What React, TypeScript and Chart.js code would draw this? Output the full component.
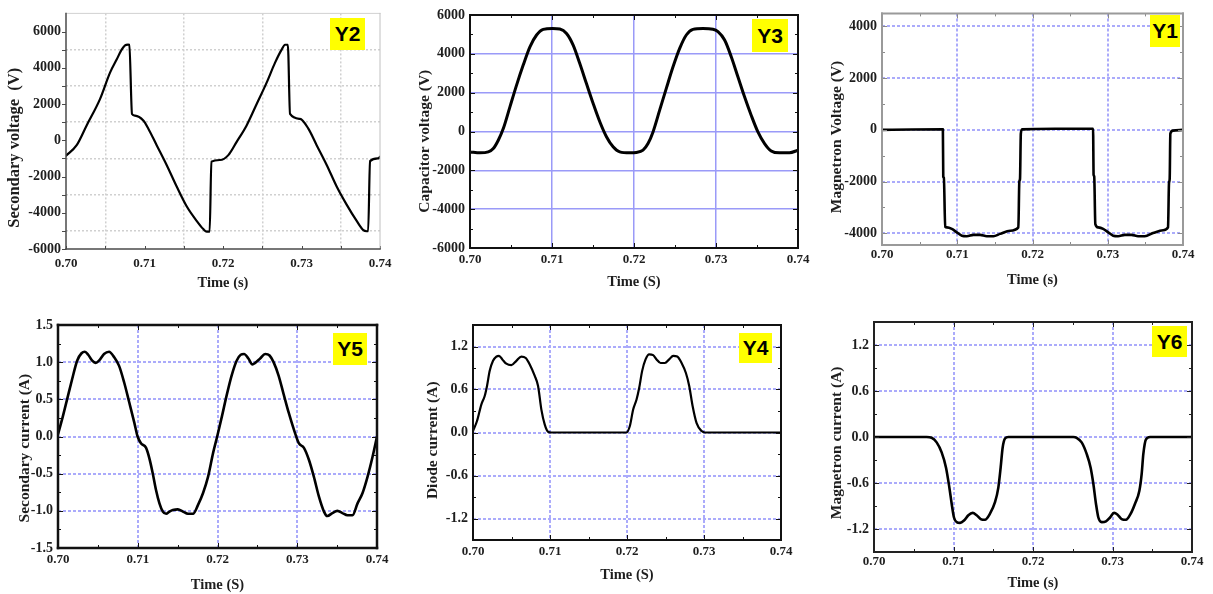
import React, { useEffect, useRef } from "react";
import { Chart, registerables } from "chart.js";

Chart.register(...registerables);

const SERIF = "'Liberation Serif', 'Times New Roman', serif";
const TXT = "#1e1e1e";

// ---------------- data ----------------
// Y2 : secondary voltage (V)
const y2Time = [0.7, 0.70136, 0.70263, 0.70433, 0.70561, 0.70645, 0.70709, 0.70752, 0.7079, 0.70807, 0.70841, 0.70879, 0.70985, 0.71049, 0.71155, 0.71282, 0.7141, 0.71537, 0.71665, 0.71749, 0.71792, 0.7183, 0.71852, 0.71962, 0.72068, 0.72174, 0.72301, 0.72429, 0.72556, 0.72662, 0.72747, 0.7279, 0.72826, 0.72854, 0.72981, 0.73087, 0.73193, 0.73321, 0.73448, 0.73575, 0.73703, 0.73788, 0.7383, 0.73849, 0.73873, 0.73979, 0.74];
const y2Volt = [-855, -270, 820, 2270, 3730, 4450, 5000, 5240, 5280, 5270, 1450, 1360, 1090, 640, -270, -1360, -2550, -3640, -4450, -4900, -5040, -5040, -1180, -1090, -820, -90, 820, 2000, 3180, 4270, 5000, 5270, 5270, 1450, 1180, 640, -270, -1360, -2550, -3550, -4450, -4960, -5020, -5020, -1150, -1000, -910];

// Y3 : capacitor voltage (V)
const y3Time = [0.7, 0.70122, 0.70223, 0.70284, 0.70345, 0.70406, 0.70487, 0.70568, 0.70649, 0.70731, 0.70812, 0.70893, 0.71006, 0.71096, 0.71177, 0.71258, 0.71339, 0.7142, 0.71502, 0.71583, 0.71664, 0.71745, 0.71826, 0.71948, 0.72029, 0.7211, 0.72171, 0.72232, 0.72313, 0.72394, 0.72476, 0.72557, 0.72638, 0.72719, 0.72841, 0.72963, 0.73024, 0.73105, 0.73186, 0.73267, 0.73348, 0.73429, 0.73511, 0.73592, 0.73673, 0.73774, 0.73896, 0.74];
const y3Volt = [-1050, -1100, -1050, -880, -450, 150, 1270, 2390, 3420, 4360, 4970, 5260, 5310, 5280, 5050, 4450, 3500, 2470, 1440, 500, -270, -790, -1050, -1100, -1080, -960, -620, -20, 1100, 2220, 3330, 4280, 4970, 5260, 5310, 5270, 5140, 4710, 3850, 2820, 1790, 840, -20, -620, -1000, -1100, -1100, -960];

// Y1 : magnetron voltage (V)
const y1Time = [0.7, 0.704, 0.70809, 0.70814, 0.70822, 0.7084, 0.70862, 0.70928, 0.70994, 0.71061, 0.71127, 0.71215, 0.71304, 0.71392, 0.71481, 0.71569, 0.71702, 0.71812, 0.71825, 0.71834, 0.71845, 0.71861, 0.723, 0.72805, 0.72812, 0.7282, 0.72835, 0.72873, 0.72939, 0.73006, 0.73072, 0.73138, 0.73227, 0.73315, 0.73403, 0.73492, 0.73602, 0.73735, 0.73801, 0.73814, 0.73823, 0.73832, 0.73867, 0.74];
const y1Volt = [0, 15, 20, -1800, -1850, -3750, -3770, -3830, -3960, -4090, -4110, -4060, -4060, -4110, -4110, -4020, -3900, -3770, -2000, -1900, -150, 20, 40, 40, -1740, -1800, -3640, -3770, -3830, -3960, -4090, -4110, -4060, -4060, -4110, -4110, -3990, -3880, -3770, -2060, -1900, -150, -30, 0];

// Y5 : secondary current (A)
const y5Time = [0.7, 0.70051, 0.70114, 0.70177, 0.7024, 0.70295, 0.70337, 0.70379, 0.70429, 0.70472, 0.70514, 0.70577, 0.7064, 0.70703, 0.70766, 0.70829, 0.70893, 0.70956, 0.70998, 0.7104, 0.71103, 0.71145, 0.71187, 0.71229, 0.71272, 0.71314, 0.71356, 0.71398, 0.7144, 0.71503, 0.71566, 0.71629, 0.71693, 0.71756, 0.71819, 0.71882, 0.71945, 0.71996, 0.72051, 0.72114, 0.72177, 0.7224, 0.72291, 0.72333, 0.72387, 0.72438, 0.72472, 0.72535, 0.72598, 0.72653, 0.72703, 0.72766, 0.72829, 0.72893, 0.72956, 0.73019, 0.73082, 0.73145, 0.73208, 0.73272, 0.73335, 0.73377, 0.7344, 0.73503, 0.73566, 0.73629, 0.73693, 0.73756, 0.73819, 0.73882, 0.73945, 0.74];
const y5Amp = [0.03, 0.23, 0.5, 0.77, 1.02, 1.12, 1.14, 1.1, 1.02, 0.99, 1.02, 1.11, 1.14, 1.07, 0.95, 0.73, 0.46, 0.19, 0.0, -0.09, -0.15, -0.29, -0.49, -0.72, -0.9, -1.01, -1.04, -1.01, -0.99, -0.98, -1.01, -1.04, -1.04, -0.92, -0.76, -0.54, -0.22, 0.0, 0.25, 0.55, 0.82, 1.02, 1.1, 1.11, 1.05, 0.97, 0.99, 1.05, 1.11, 1.09, 1.0, 0.82, 0.57, 0.32, 0.1, -0.09, -0.15, -0.31, -0.54, -0.81, -1.01, -1.07, -1.03, -1.0, -1.03, -1.06, -1.06, -0.9, -0.76, -0.54, -0.27, 0.0];

// Y4 : diode current (A)
const y4Time = [0.7, 0.70052, 0.70108, 0.70152, 0.70182, 0.70217, 0.7026, 0.70303, 0.70338, 0.70381, 0.70433, 0.70498, 0.70563, 0.70628, 0.70685, 0.70737, 0.70802, 0.70845, 0.70888, 0.70932, 0.70975, 0.71018, 0.71993, 0.72037, 0.7208, 0.72124, 0.72158, 0.72197, 0.72241, 0.72288, 0.7234, 0.72384, 0.72436, 0.72492, 0.72548, 0.726, 0.72652, 0.72709, 0.72765, 0.72808, 0.72852, 0.72904, 0.72969, 0.73012, 0.74];
const y4Amp = [0.02, 0.16, 0.39, 0.51, 0.65, 0.86, 1.0, 1.06, 1.07, 1.02, 0.96, 0.94, 1.0, 1.06, 1.04, 0.95, 0.79, 0.65, 0.32, 0.11, 0.01, 0, 0, 0.09, 0.32, 0.46, 0.62, 0.86, 1.02, 1.09, 1.08, 1.02, 0.97, 0.97, 1.02, 1.07, 1.06, 0.97, 0.83, 0.65, 0.37, 0.13, 0.02, 0, 0];

// Y6 : magnetron current (A)
const y6Time = [0.7, 0.70662, 0.70725, 0.70788, 0.70851, 0.70906, 0.70948, 0.70977, 0.71006, 0.7104, 0.71082, 0.71132, 0.71187, 0.71241, 0.71291, 0.71342, 0.71396, 0.71459, 0.71522, 0.71564, 0.71593, 0.71618, 0.71648, 0.7169, 0.72507, 0.72549, 0.72612, 0.72675, 0.72725, 0.72759, 0.72792, 0.72822, 0.72864, 0.72918, 0.72969, 0.73019, 0.73061, 0.73115, 0.7317, 0.73229, 0.73283, 0.73338, 0.73367, 0.73388, 0.73421, 0.73472, 0.74];
const y6Amp = [0, 0, -0.01, -0.07, -0.2, -0.4, -0.66, -0.87, -1.05, -1.11, -1.12, -1.09, -1.02, -0.99, -1.02, -1.07, -1.08, -1.0, -0.85, -0.66, -0.4, -0.14, -0.02, 0, 0, -0.01, -0.07, -0.22, -0.4, -0.61, -0.87, -1.05, -1.11, -1.1, -1.05, -0.99, -1.01, -1.07, -1.08, -1.0, -0.87, -0.7, -0.48, -0.22, -0.03, 0, 0];

// ---------------- ticks ----------------
const timeLabels = [0.7, 0.71, 0.72, 0.73, 0.74];
const timeMajorGrid = [0.71, 0.72, 0.73];
const timeMinor = [0.705, 0.715, 0.725, 0.735];

const y2Labels = [-6000, -4000, -2000, 0, 2000, 4000, 6000];
const y2Grid = [-5000, -3000, -1000, 1000, 3000, 5000];

const y3Labels = [-6000, -4000, -2000, 0, 2000, 4000, 6000];
const y3Grid = [-4000, -2000, 0, 2000, 4000];
const y3Minor = [-5000, -3000, -1000, 1000, 3000, 5000];

const y1Labels = [-4000, -2000, 0, 2000, 4000];
const y1Minor = [-3000, -1000, 1000, 3000];

const y5Labels = [-1.5, -1.0, -0.5, 0, 0.5, 1.0, 1.5];
const y5Grid = [-1.0, -0.5, 0, 0.5, 1.0];
const y5Minor = [-1.25, -0.75, -0.25, 0.25, 0.75, 1.25];

const y4Labels = [-1.2, -0.6, 0, 0.6, 1.2];
const y4Minor = [-0.9, -0.3, 0.3, 0.9];

type Panel = {
  id: string;
  badge: string;
  t: number[];
  v: number[];
  yMin: number;
  yMax: number;
  yTitle: string;
  xTitle: string;
  yLabels: number[];
  yGrid: number[];
  yMinor: number[];
  xGrid: number[];
  xMinor: number[];
  yDec: number;
  canvas: number[];
  plot: number[];
  badgeRect: number[];
  lineW: number;
  gridColor: string;
  gridW: number;
  gridDash: number[];
  frame: [string, number][]; // top, right, bottom, left
  tickColor: string;
  tickMode: "inner" | "outer";
  xTickPad: number;
  yTitleSize: number;
  yTitlePad: number;
  yTitleShift: number;
  xTitlePad: number;
};

const BLUE = "#ababfb";

const PANELS: Panel[] = [
  {
    id: "y2", badge: "Y2", t: y2Time, v: y2Volt, yMin: -6000, yMax: 7000,
    yTitle: "Secondary voltage  (V)", xTitle: "Time (s)",
    yLabels: y2Labels, yGrid: y2Grid, yMinor: y2Grid, xGrid: timeMinor, xMinor: timeMinor, yDec: 0,
    canvas: [0, 0, 400, 297], plot: [66, 10, 380, 249], badgeRect: [330, 18, 35, 32],
    lineW: 2.2, gridColor: "#d0d0d0", gridW: 1.5, gridDash: [2, 2],
    frame: [["#d2d2d2", 1], ["#c0c0c0", 1], ["#4a4a4a", 1.5], ["#4a4a4a", 1.5]],
    tickColor: "#4a4a4a", tickMode: "outer", xTickPad: 7, yTitleSize: 16.5, yTitlePad: 5.1, yTitleShift: 8, xTitlePad: 5.3,
  },
  {
    id: "y3", badge: "Y3", t: y3Time, v: y3Volt, yMin: -6000, yMax: 6000,
    yTitle: "Capacitor voltage (V)", xTitle: "Time (S)",
    yLabels: y3Labels, yGrid: y3Grid, yMinor: y3Minor, xGrid: timeMajorGrid, xMinor: timeMinor, yDec: 0,
    canvas: [400, 0, 430, 297], plot: [470, 15, 798, 248], badgeRect: [752, 19, 36, 33],
    lineW: 3, gridColor: "#9a9af8", gridW: 1.5, gridDash: [],
    frame: [["#111", 2], ["#111", 2], ["#111", 2], ["#111", 2]],
    tickColor: "#111", tickMode: "inner", xTickPad: 4, yTitleSize: 15.5, yTitlePad: 15.7, yTitleShift: 5, xTitlePad: 6.3,
  },
  {
    id: "y1", badge: "Y1", t: y1Time, v: y1Volt, yMin: -4450, yMax: 4500,
    yTitle: "Magnetron Voltage (V)", xTitle: "Time (s)",
    yLabels: y1Labels, yGrid: y1Labels, yMinor: y1Minor, xGrid: timeMajorGrid, xMinor: timeMinor, yDec: 0,
    canvas: [810, 0, 403, 297], plot: [882, 10, 1183, 245], badgeRect: [1150, 15, 30, 32],
    lineW: 2.6, gridColor: BLUE, gridW: 2, gridDash: [3, 2],
    frame: [["#9a9a9a", 2], ["#9a9a9a", 2], ["#9a9a9a", 2], ["#9a9a9a", 2]],
    tickColor: "#8a8a8a", tickMode: "inner", xTickPad: 2, yTitleSize: 15.5, yTitlePad: 17.7, yTitleShift: 4, xTitlePad: 8.3,
  },
  {
    id: "y5", badge: "Y5", t: y5Time, v: y5Amp, yMin: -1.5, yMax: 1.5,
    yTitle: "Secondary current (A)", xTitle: "Time (S)",
    yLabels: y5Labels, yGrid: y5Grid, yMinor: y5Minor, xGrid: timeMajorGrid, xMinor: timeMinor, yDec: 1,
    canvas: [0, 297, 400, 297], plot: [58, 325, 377, 548], badgeRect: [333, 333, 34, 32],
    lineW: 2.6, gridColor: BLUE, gridW: 2, gridDash: [3, 2],
    frame: [["#111", 2.5], ["#111", 2.5], ["#111", 2.5], ["#111", 2.5]],
    tickColor: "#111", tickMode: "inner", xTickPad: 4, yTitleSize: 15.5, yTitlePad: 15.7, yTitleShift: 6, xTitlePad: 0.3,
  },
  {
    id: "y4", badge: "Y4", t: y4Time, v: y4Amp, yMin: -1.5, yMax: 1.5,
    yTitle: "Diode current (A)", xTitle: "Time (S)",
    yLabels: y4Labels, yGrid: y4Labels, yMinor: y4Minor, xGrid: timeMajorGrid, xMinor: timeMinor, yDec: 1,
    canvas: [400, 297, 410, 297], plot: [473, 325, 781, 540], badgeRect: [739, 333, 33, 30],
    lineW: 2.2, gridColor: BLUE, gridW: 2, gridDash: [3, 2],
    frame: [["#111", 2], ["#111", 2], ["#111", 2], ["#111", 2]],
    tickColor: "#111", tickMode: "inner", xTickPad: 4, yTitleSize: 15.5, yTitlePad: 23.7, yTitleShift: 4, xTitlePad: 10.3,
  },
  {
    id: "y6", badge: "Y6", t: y6Time, v: y6Amp, yMin: -1.5, yMax: 1.5,
    yTitle: "Magnetron current (A)", xTitle: "Time (s)",
    yLabels: y4Labels, yGrid: y4Labels, yMinor: y4Minor, xGrid: timeMajorGrid, xMinor: timeMinor, yDec: 1,
    canvas: [810, 297, 403, 297], plot: [874, 322, 1192, 552], badgeRect: [1152, 326, 35, 31],
    lineW: 2.6, gridColor: BLUE, gridW: 2, gridDash: [3, 2],
    frame: [["#222", 2], ["#222", 2], ["#222", 2], ["#222", 2]],
    tickColor: "#222", tickMode: "inner", xTickPad: 2, yTitleSize: 15.5, yTitlePad: 17.7, yTitleShift: 3, xTitlePad: 2.3,
  },
];

const inList = (arr: number[], v: number | undefined) =>
  v !== undefined && arr.some((a) => Math.abs(a - v) < 1e-6 * (1 + Math.abs(a)));

const union = (a: number[], b: number[]) => {
  const out = [...a];
  b.forEach((v) => { if (!inList(out, v)) out.push(v); });
  return out.sort((p, q) => p - q);
};

function makeFrame(p: Panel) {
  return {
    id: "frame_" + p.id,
    afterDatasetsDraw(chart: any) {
      const { ctx, chartArea: a, scales } = chart;
      const xs = scales.x, ys = scales.y;
      ctx.save();
      ctx.setLineDash([]);
      ctx.lineCap = "butt";
      ctx.strokeStyle = p.tickColor;
      ctx.lineWidth = 1;
      ctx.beginPath();
      const seg = (x1: number, y1: number, x2: number, y2: number) => { ctx.moveTo(x1, y1); ctx.lineTo(x2, y2); };
      if (p.tickMode === "inner") {
        const xSets: [number[], number][] = [[timeLabels, 5], [p.xMinor, 3]];
        xSets.forEach(([vals, len]) => vals.forEach((v) => {
          const px = Math.round(xs.getPixelForValue(v)) + 0.5;
          seg(px, a.bottom, px, a.bottom - len);
          seg(px, a.top, px, a.top + len);
        }));
        const ySets: [number[], number][] = [[p.yLabels, 5], [p.yMinor, 3]];
        ySets.forEach(([vals, len]) => vals.forEach((v) => {
          const py = Math.round(ys.getPixelForValue(v)) + 0.5;
          seg(a.left, py, a.left + len, py);
          seg(a.right, py, a.right - len, py);
        }));
      } else {
        [...p.yLabels, ...p.yMinor].forEach((v) => {
          const py = Math.round(ys.getPixelForValue(v)) + 0.5;
          seg(a.left, py, a.left - 4, py);
        });
        [...timeLabels, ...p.xMinor].forEach((v) => {
          const px = Math.round(xs.getPixelForValue(v)) + 0.5;
          seg(px, a.bottom, px, a.bottom - 3);
        });
      }
      ctx.stroke();
      ctx.lineCap = "square";
      const sides: [number, number, number, number][] = [
        [a.left, a.top, a.right, a.top],
        [a.right, a.top, a.right, a.bottom],
        [a.left, a.bottom, a.right, a.bottom],
        [a.left, a.top, a.left, a.bottom],
      ];
      sides.forEach((s, i) => {
        ctx.strokeStyle = p.frame[i][0];
        ctx.lineWidth = p.frame[i][1];
        ctx.beginPath();
        ctx.moveTo(s[0], s[1]);
        ctx.lineTo(s[2], s[3]);
        ctx.stroke();
      });
      ctx.restore();
    },
  };
}

function PanelChart({ p }: { p: Panel }) {
  const ref = useRef<HTMLCanvasElement>(null);
  const [cx, cy, cw, ch] = p.canvas;

  useEffect(() => {
    const [x0, y0, x1, y1] = p.plot;
    const yW = x0 - cx;
    const xH = cy + ch - y1;
    const padTop = y0 - cy;
    const padRight = cx + cw - x1;
    const xTicks = union(timeLabels, p.xGrid);
    const yTicks = union(p.yLabels, p.yGrid);
    const yTickFont = { family: SERIF, size: 14, weight: "bold" as const };
    const xTickFont = { family: SERIF, size: 13, weight: "bold" as const };
    const xTitleFont = { family: SERIF, size: 14.5, weight: "bold" as const };
    const yTitleFont = { family: SERIF, size: p.yTitleSize, weight: "bold" as const };
    // trailing no-break spaces move the (rotated, centred) title slightly downwards
    const yTitleText = p.yTitle + "\u00a0".repeat(p.yTitleShift);

    const chart = new Chart(ref.current as HTMLCanvasElement, {
      type: "line",
      data: {
        datasets: [
          {
            data: p.t.map((t, i) => ({ x: t, y: p.v[i] })),
            borderColor: "#000",
            borderWidth: p.lineW,
            pointRadius: 0,
            fill: false,
            cubicInterpolationMode: "monotone",
            borderJoinStyle: "round",
            borderCapStyle: "round",
          },
        ],
      },
      options: {
        responsive: false,
        animation: false,
        devicePixelRatio: 1,
        events: [],
        layout: { padding: { left: 0, top: padTop, right: padRight, bottom: 0 } },
        plugins: { legend: { display: false }, tooltip: { enabled: false } },
        scales: {
          x: {
            type: "linear",
            min: 0.7,
            max: 0.74,
            afterBuildTicks: (s: any) => { s.ticks = xTicks.map((v) => ({ value: v })); },
            afterFit: (s: any) => { s.height = xH; },
            ticks: {
              autoSkip: false,
              maxRotation: 0,
              padding: p.xTickPad,
              color: TXT,
              font: xTickFont,
              callback: (v: any) => (inList(timeLabels, Number(v)) ? Number(v).toFixed(2) : ""),
            },
            grid: {
              drawTicks: false,
              lineWidth: p.gridW,
              color: (c: any) => (inList(p.xGrid, c.tick?.value) ? p.gridColor : "rgba(0,0,0,0)"),
            },
            border: { display: false, dash: p.gridDash },
            title: { display: true, text: p.xTitle, color: TXT, font: xTitleFont, padding: { top: 0, bottom: p.xTitlePad } },
          },
          y: {
            type: "linear",
            min: p.yMin,
            max: p.yMax,
            afterBuildTicks: (s: any) => { s.ticks = yTicks.map((v) => ({ value: v })); },
            afterFit: (s: any) => { s.width = yW; },
            ticks: {
              autoSkip: false,
              padding: 5,
              color: TXT,
              font: yTickFont,
              callback: (v: any) => {
                const n = Number(v);
                if (!inList(p.yLabels, n)) return "";
                return p.yDec === 0 ? String(Math.round(n)) : n.toFixed(p.yDec);
              },
            },
            grid: {
              drawTicks: false,
              lineWidth: p.gridW,
              color: (c: any) => (inList(p.yGrid, c.tick?.value) ? p.gridColor : "rgba(0,0,0,0)"),
            },
            border: { display: false, dash: p.gridDash },
            title: { display: true, text: yTitleText, color: TXT, font: yTitleFont, padding: { top: p.yTitlePad, bottom: 0 } },
          },
        },
      } as any,
      plugins: [makeFrame(p)],
    });
    return () => chart.destroy();
  }, [p]);

  const [bl, bt, bw, bh] = p.badgeRect;
  return (
    <>
      <canvas
        ref={ref}
        width={cw}
        height={ch}
        style={{ position: "absolute", left: cx, top: cy, width: cw, height: ch }}
      />
      <div
        style={{
          position: "absolute",
          left: bl,
          top: bt,
          width: bw,
          height: bh,
          background: "#ffff00",
          color: "#000",
          font: "bold 21px 'Liberation Sans', Arial, sans-serif",
          display: "flex",
          alignItems: "center",
          justifyContent: "center",
        }}
      >
        {p.badge}
      </div>
    </>
  );
}

export default function App() {
  return (
    <div style={{ position: "relative", width: 1213, height: 594, background: "#fff", overflow: "hidden" }}>
      <style>{"body{margin:0;background:#fff}"}</style>
      {PANELS.map((p) => (
        <PanelChart key={p.id} p={p} />
      ))}
    </div>
  );
}
